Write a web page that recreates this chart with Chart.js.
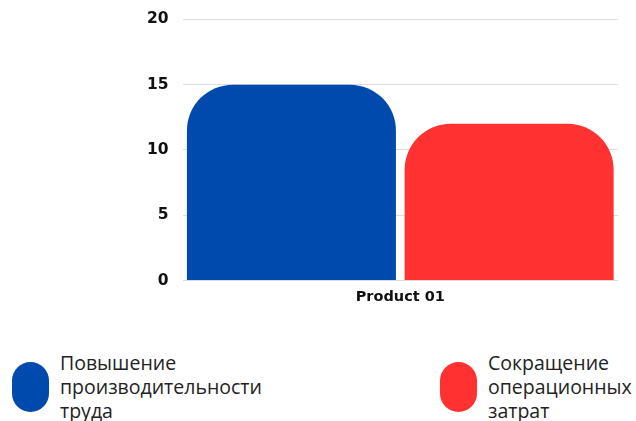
<!DOCTYPE html>
<html>
<head>
<meta charset="utf-8">
<script src="https://cdn.jsdelivr.net/npm/chart.js@4/dist/chart.umd.min.js"></script>
<style>
  html, body { margin: 0; padding: 0; background: #fff; overflow: hidden; }
  #wrap { position: relative; width: 636px; height: 421px; overflow: hidden; }
  #chartBox { position: absolute; left: 0; top: -4px; width: 636px; height: 310px; }
  #legend { position: absolute; left: 0; top: 350px; width: 636px; height: 71px; }
  .item { position: absolute; top: 0; display: flex; align-items: flex-start; }
  .blob { width: 37px; height: 50px; border-radius: 19px; margin-top: 12px; }
  .txt { font-family: "Open Sans", "Noto Sans", sans-serif; font-size: 19.5px; line-height: 24px; color: #222; margin-left: 11px; margin-top: 1px; white-space: pre-line; }
</style>
</head>
<body>
<div id="wrap">
  <div id="chartBox"><canvas id="c"></canvas></div>
  <div id="legend"></div>
</div>
<script>
const categories = ['Product 01'];
const seriesNames = ['Повышение\nпроизводительности\nтруда', 'Сокращение\nоперационных\nзатрат'];
const seriesValues = [[15], [12]];
const seriesColors = ['#004AAD', '#FF3131'];
const yTicks = [0, 5, 10, 15, 20];

const datasets = seriesNames.map((name, i) => ({
  label: name,
  data: seriesValues[i],
  backgroundColor: seriesColors[i],
  borderRadius: { topLeft: 46, topRight: 46, bottomLeft: 0, bottomRight: 0 },
  borderSkipped: 'bottom',
  barPercentage: 0.96,
  categoryPercentage: 1.0
}));

const htmlLegend = {
  id: 'htmlLegend',
  afterUpdate(chart) {
    const box = document.getElementById('legend');
    box.innerHTML = '';
    const lefts = [12, 440];
    chart.data.datasets.forEach((ds, i) => {
      const item = document.createElement('div');
      item.className = 'item';
      item.style.left = lefts[i] + 'px';
      const b = document.createElement('div');
      b.className = 'blob';
      b.style.background = ds.backgroundColor;
      const t = document.createElement('div');
      t.className = 'txt';
      t.textContent = ds.label;
      item.appendChild(b); item.appendChild(t);
      box.appendChild(item);
    });
  }
};

const tickFont = { family: 'DejaVu Sans', size: 15.5, weight: 'bold' };

new Chart(document.getElementById('c'), {
  type: 'bar',
  data: { labels: categories, datasets },
  plugins: [htmlLegend],
  options: {
    responsive: true,
    maintainAspectRatio: false,
    animation: false,
    layout: { padding: { left: 133, right: 18, top: 5, bottom: 0 } },
    plugins: { legend: { display: false }, tooltip: { enabled: false } },
    scales: {
      x: {
        grid: { display: false },
        border: { display: false },
        ticks: { color: '#111', font: { family: 'DejaVu Sans', size: 14.5, weight: 'bold' }, padding: 0 }
      },
      y: {
        min: 0, max: 20,
        afterBuildTicks(axis) { axis.ticks = yTicks.map(v => ({ value: v })); },
        grid: { color: '#dcdcdc', lineWidth: 1, drawTicks: false },
        border: { display: false },
        ticks: { color: '#111', font: tickFont, padding: 14 }
      }
    }
  }
});
</script>
</body>
</html>
